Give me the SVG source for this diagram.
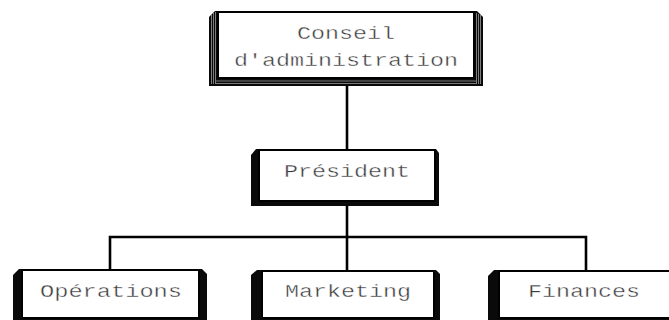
<svg xmlns="http://www.w3.org/2000/svg" width="669" height="320" viewBox="0 0 669 320">
  <style>
    .frame { fill: #0a0a0a; }
    .face { fill: #ffffff; stroke: #000000; stroke-width: 2; }
    .gap { stroke: #9a9a9a; stroke-width: 0.8; fill: none; }
    .label { font-family: "Liberation Mono", "Courier New", monospace; font-size: 17.5px; fill: #3a3a3a; stroke: #ffffff; stroke-width: 0.35; paint-order: normal; text-anchor: middle; }
    .link { stroke: #000000; stroke-width: 2.6; fill: none; }
  </style>

  <!-- connectors -->
  <g id="connectors">
    <line class="link" x1="347" y1="84" x2="347" y2="150"/>
    <line class="link" x1="347" y1="203" x2="347" y2="237"/>
    <polyline class="link" points="110,270 110,237 586,237 586,271"/>
    <line class="link" x1="347" y1="237" x2="347" y2="271"/>
  </g>

  <!-- board -->
  <g id="conseil">
    <polygon class="frame" points="209,17 215,11 477,11 483,17 483,86 209,86"/>
    <path class="gap" d="M211.5,15 V84 M213.5,13 V84 M215.5,12 V84 M476.5,13 V84 M478.5,14 V84 M480.5,15 V84 M216,81 H476 M216,83.5 H476"/>
    <rect class="face" x="218" y="12" width="256" height="66"/>
    <text class="label" x="346" y="39" textLength="98" lengthAdjust="spacingAndGlyphs">Conseil</text>
    <text class="label" x="346" y="66" textLength="224" lengthAdjust="spacingAndGlyphs">d'administration</text>
  </g>

  <!-- president -->
  <g id="president">
    <polygon class="frame" points="251,155 256,149 436,149 439,153 439,206 251,206"/>
    <rect class="face" x="259" y="150" width="176" height="51"/>
    <text class="label" x="347" y="177" textLength="126" lengthAdjust="spacingAndGlyphs">Président</text>
  </g>

  <!-- operations -->
  <g id="operations">
    <polygon class="frame" points="13,275 19,269 202,269 207,274 207,330 13,330"/>
    <rect class="face" x="22" y="270" width="177" height="48"/>
    <text class="label" x="111" y="297" textLength="142" lengthAdjust="spacingAndGlyphs">Opérations</text>
  </g>

  <!-- marketing -->
  <g id="marketing">
    <polygon class="frame" points="251,275 257,270 436,270 440,274 440,330 251,330"/>
    <rect class="face" x="262" y="271" width="172" height="47"/>
    <text class="label" x="348" y="297" textLength="126" lengthAdjust="spacingAndGlyphs">Marketing</text>
  </g>

  <!-- finances -->
  <g id="finances">
    <polygon class="frame" points="488,276 494,270 690,270 690,330 488,330"/>
    <rect class="face" x="499" y="271" width="190" height="47"/>
    <text class="label" x="584" y="297" textLength="112" lengthAdjust="spacingAndGlyphs">Finances</text>
  </g>
</svg>
